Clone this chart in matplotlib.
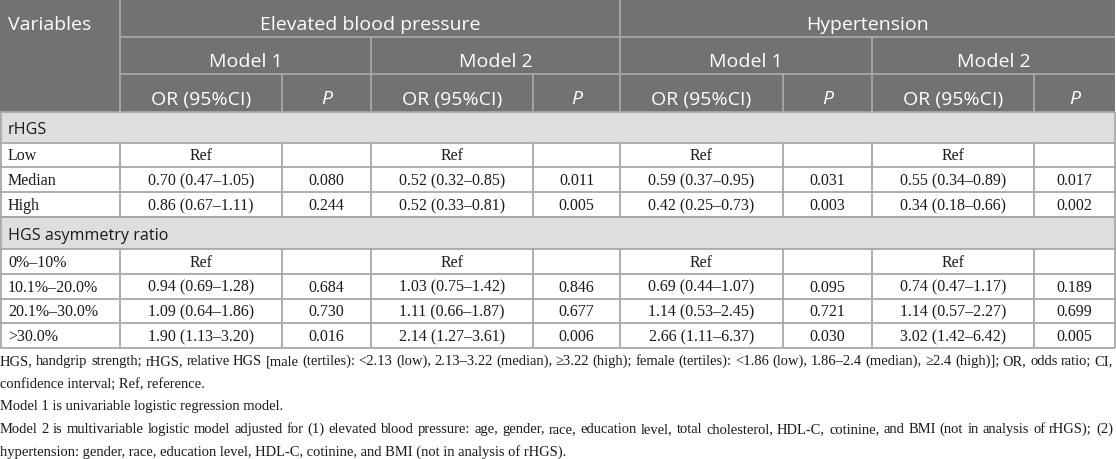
import matplotlib
matplotlib.use("Agg")
import matplotlib.pyplot as plt
from matplotlib.patches import Rectangle

# table content
outcomes = ["Elevated blood pressure", "Hypertension"]
models = ["Model 1", "Model 2"]
stat_heads = ["OR (95%CI)", "P"]

rhgs_title = "rHGS"
rhgs_levels = ["Low", "Median", "High"]
rhgs_ebp_m1_or = ["Ref", "0.70 (0.47–1.05)", "0.86 (0.67–1.11)"]
rhgs_ebp_m1_p = ["", "0.080", "0.244"]
rhgs_ebp_m2_or = ["Ref", "0.52 (0.32–0.85)", "0.52 (0.33–0.81)"]
rhgs_ebp_m2_p = ["", "0.011", "0.005"]
rhgs_hyp_m1_or = ["Ref", "0.59 (0.37–0.95)", "0.42 (0.25–0.73)"]
rhgs_hyp_m1_p = ["", "0.031", "0.003"]
rhgs_hyp_m2_or = ["Ref", "0.55 (0.34–0.89)", "0.34 (0.18–0.66)"]
rhgs_hyp_m2_p = ["", "0.017", "0.002"]

asym_title = "HGS asymmetry ratio"
asym_levels = ["0%–10%", "10.1%–20.0%", "20.1%–30.0%", ">30.0%"]
asym_ebp_m1_or = ["Ref", "0.94 (0.69–1.28)", "1.09 (0.64–1.86)", "1.90 (1.13–3.20)"]
asym_ebp_m1_p = ["", "0.684", "0.730", "0.016"]
asym_ebp_m2_or = ["Ref", "1.03 (0.75–1.42)", "1.11 (0.66–1.87)", "2.14 (1.27–3.61)"]
asym_ebp_m2_p = ["", "0.846", "0.677", "0.006"]
asym_hyp_m1_or = ["Ref", "0.69 (0.44–1.07)", "1.14 (0.53–2.45)", "2.66 (1.11–6.37)"]
asym_hyp_m1_p = ["", "0.095", "0.721", "0.030"]
asym_hyp_m2_or = ["Ref", "0.74 (0.47–1.17)", "1.14 (0.57–2.27)", "3.02 (1.42–6.42)"]
asym_hyp_m2_p = ["", "0.189", "0.699", "0.005"]

footnotes = [
    "HGS, handgrip strength; rHGS, relative HGS [male (tertiles): <2.13 (low), 2.13–3.22 (median), ≥3.22 (high); "
    "female (tertiles): <1.86 (low), 1.86–2.4 (median), ≥2.4 (high)]; OR, odds ratio; CI,",
    "confidence interval; Ref, reference.",
    "Model 1 is univariable logistic regression model.",
    "Model 2 is multivariable logistic model adjusted for (1) elevated blood pressure: age, gender, race, "
    "education level, total cholesterol, HDL-C, cotinine, and BMI (not in analysis of rHGS); (2)",
    "hypertension: gender, race, education level, HDL-C, cotinine, and BMI (not in analysis of rHGS).",
]
justified = [True, False, False, True, False]

sections = [
    (rhgs_title, rhgs_levels,
     [rhgs_ebp_m1_or, rhgs_ebp_m1_p, rhgs_ebp_m2_or, rhgs_ebp_m2_p,
      rhgs_hyp_m1_or, rhgs_hyp_m1_p, rhgs_hyp_m2_or, rhgs_hyp_m2_p]),
    (asym_title, asym_levels,
     [asym_ebp_m1_or, asym_ebp_m1_p, asym_ebp_m2_or, asym_ebp_m2_p,
      asym_hyp_m1_or, asym_hyp_m1_p, asym_hyp_m2_or, asym_hyp_m2_p]),
]

# layout (pixels)
W, H = 1116, 459
col_edges = [0, 120, 282, 371, 533, 620, 783, 872, 1034, 1115]
head_rows = [0, 37, 74, 112]
band_hs = [30.5, 32]
row_h = 24.8
text_right = 1113

head_bg = "#727272"
head_line = "#a8a8a8"
band_bg = "#dedede"
grid = "#a8a8a8"
txt = "#1a1a1a"
sans = ["Open Sans", "DejaVu Sans"]
serif = ["Liberation Serif", "DejaVu Serif"]
hs, ss, bs, fs = 14, 11.6, 11.5, 10.45

fig = plt.figure(figsize=(W / 100, H / 100), dpi=100)
ax = fig.add_axes([0, 0, 1, 1])
ax.set_xlim(0, W)
ax.set_ylim(H, 0)
ax.axis("off")

def hline(y, x0, x1, c, lw=1.3):
    ax.plot([x0, x1], [y, y], color=c, lw=lw, solid_capstyle="butt")

def vline(x, y0, y1, c, lw=1.3):
    ax.plot([x, x], [y0, y1], color=c, lw=lw, solid_capstyle="butt")

# header block
ax.add_patch(Rectangle((0, 0), col_edges[-1], head_rows[-1], color=head_bg, lw=0))
hline(head_rows[1], col_edges[1], col_edges[-1], head_line)
hline(head_rows[2], col_edges[1], col_edges[-1], head_line)
vline(col_edges[1], 0, head_rows[3], head_line)
vline(col_edges[5], 0, head_rows[3], head_line)
for i in (3, 7):
    vline(col_edges[i], head_rows[1], head_rows[3], head_line)
for i in (2, 4, 6, 8):
    vline(col_edges[i], head_rows[2], head_rows[3], head_line)

hoff = 6.5
ax.text(8, head_rows[1] / 2 + hoff, "Variables", color="white", fontsize=hs, family=sans,
        ha="left", va="center")
for k, name in enumerate(outcomes):
    xc = (col_edges[1 + 4 * k] + col_edges[5 + 4 * k]) / 2
    ax.text(xc, head_rows[1] / 2 + hoff, name, color="white", fontsize=hs, family=sans,
            ha="center", va="center")
    for m, mname in enumerate(models):
        a = 1 + 4 * k + 2 * m
        xc = (col_edges[a] + col_edges[a + 2]) / 2
        ax.text(xc, (head_rows[1] + head_rows[2]) / 2 + hoff, mname, color="white",
                fontsize=hs, family=sans, ha="center", va="center")
        for s, sname in enumerate(stat_heads):
            xc = (col_edges[a + s] + col_edges[a + s + 1]) / 2
            ax.text(xc, (head_rows[2] + head_rows[3]) / 2 + hoff, sname, color="white",
                    fontsize=hs, family=sans, ha="center", va="center",
                    style="italic" if sname == "P" else "normal")

# body
y = head_rows[-1]
for (title, levels, cols), band_h in zip(sections, band_hs):
    ax.add_patch(Rectangle((0, y), col_edges[-1], band_h, color=band_bg, lw=0))
    ax.text(8, y + band_h / 2 + 3, title, color=txt, fontsize=ss, family=sans,
            ha="left", va="center")
    hline(y, 0, col_edges[-1], grid)
    vline(0.7, y, y + band_h, grid)
    vline(col_edges[-1], y, y + band_h, grid)
    y += band_h
    top = y
    for r, lev in enumerate(levels):
        hline(y, 0, col_edges[-1], grid)
        yc = y + row_h / 2 + 1.5
        ax.text(8, yc, lev, color=txt, fontsize=bs, family=serif, ha="left", va="center")
        for c, vals in enumerate(cols):
            xc = (col_edges[c + 1] + col_edges[c + 2]) / 2
            ax.text(xc, yc, vals[r], color=txt, fontsize=bs, family=serif,
                    ha="center", va="center")
        y += row_h
    hline(y, 0, col_edges[-1], grid)
    vline(0.7, top, y, grid)
    for x in col_edges[1:]:
        vline(x, top, y, grid)

# footnotes (first and fourth lines are justified to the right edge)
fig.canvas.draw()
renderer = fig.canvas.get_renderer()

def text_w(s):
    t = ax.text(0, 0, s, fontsize=fs, family=serif)
    w = t.get_window_extent(renderer).width
    t.remove()
    return w

space_w = text_w("x x") - text_w("xx")
base = y + 17
for line, just in zip(footnotes, justified):
    if not just:
        ax.text(0, base, line, color=txt, fontsize=fs, family=serif,
                ha="left", va="baseline")
    else:
        words = line.split(" ")
        widths = [text_w(wd) for wd in words]
        gap = space_w + (text_right - sum(widths) - space_w * (len(words) - 1)) / (len(words) - 1)
        x = 0
        for wd, ww in zip(words, widths):
            ax.text(x, base, wd, color=txt, fontsize=fs, family=serif,
                    ha="left", va="baseline")
            x += ww + gap
    base += 22.6

fig.savefig("out.png", dpi=100, facecolor="white")
